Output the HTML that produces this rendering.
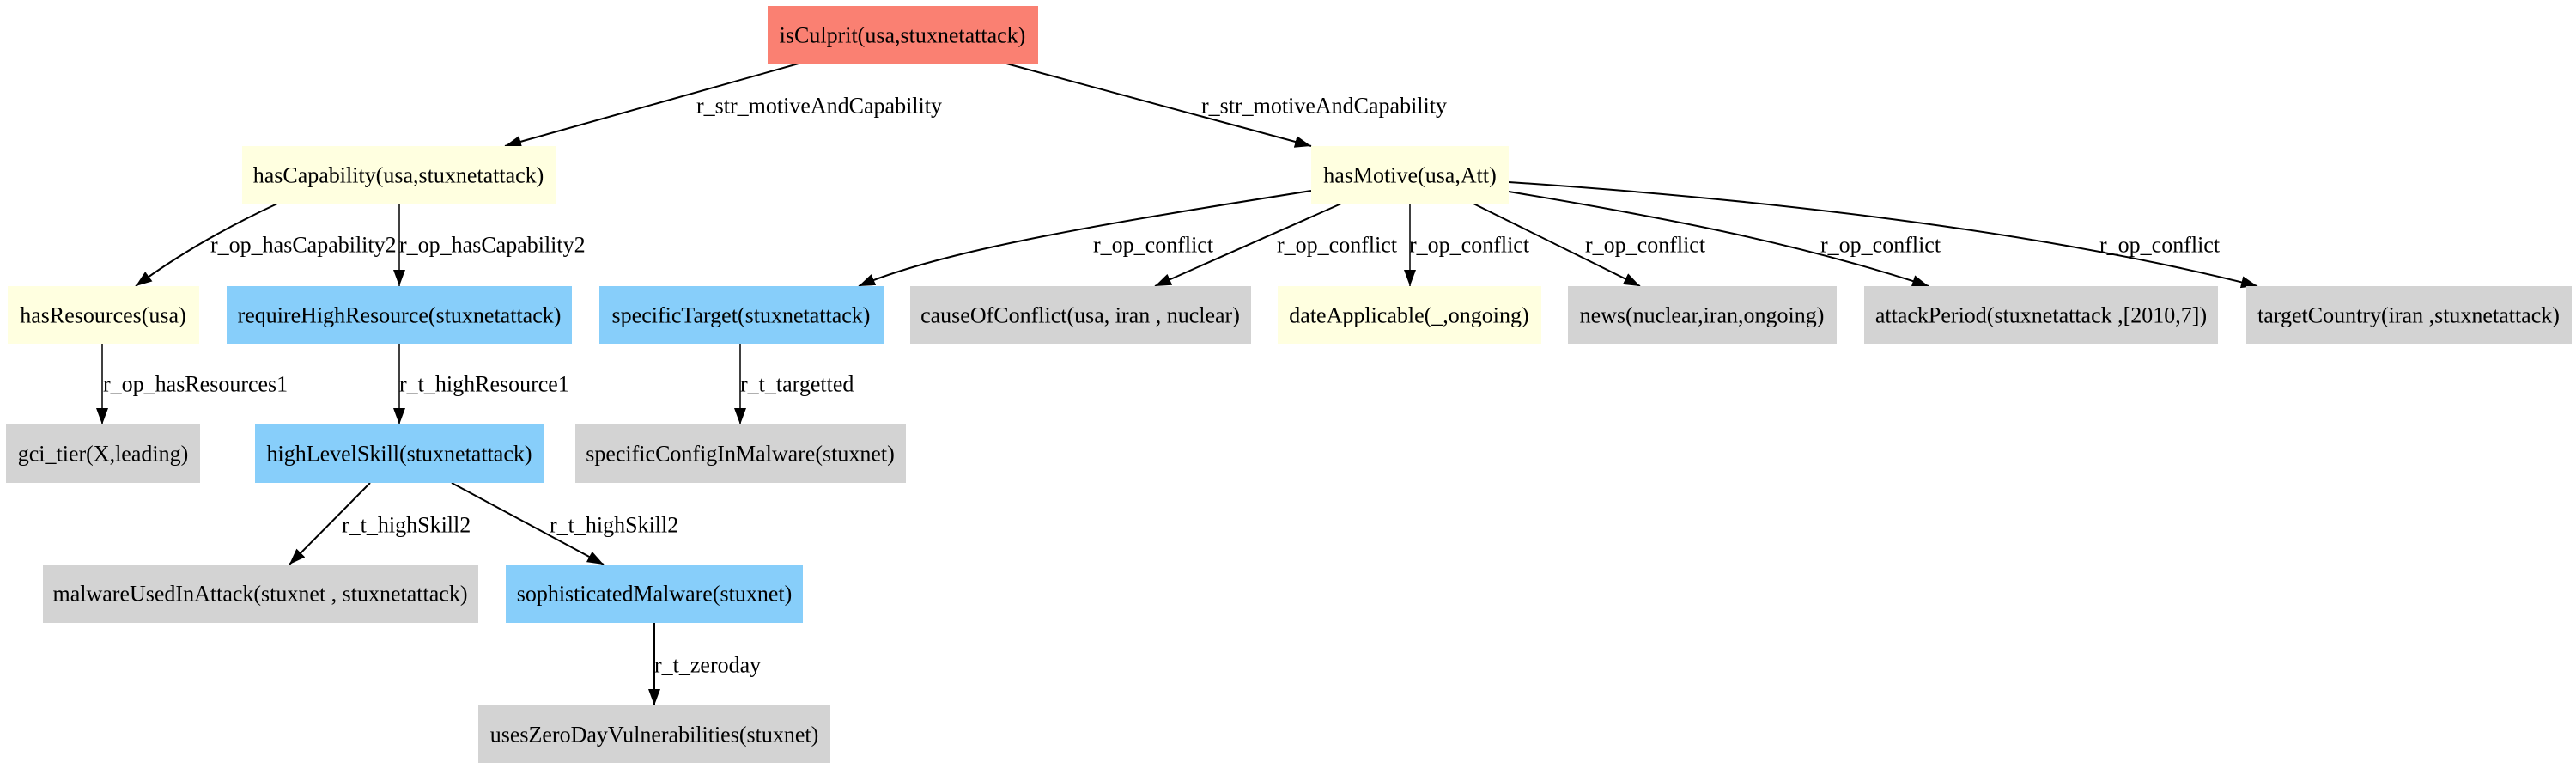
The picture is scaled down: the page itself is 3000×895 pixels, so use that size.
<!DOCTYPE html>
<html><head><meta charset="utf-8"><style>
html,body{margin:0;padding:0;background:#fff;}
svg{display:block;}
text{font-family:"Liberation Serif","Times New Roman",serif;font-size:26px;fill:#000;}
</style></head><body>
<svg width="3000" height="895" viewBox="0 0 3000 895" xmlns="http://www.w3.org/2000/svg">
<defs>
<marker id="a" markerUnits="userSpaceOnUse" markerWidth="20" markerHeight="16" refX="19" refY="7" orient="auto">
<path d="M0,0 L19,7 L0,14 Z" fill="#000"/>
</marker>
</defs>
<g fill="none" stroke="#000" stroke-width="2" marker-end="url(#a)">
<path d="M930,74 L588,170"/>
<path d="M1172,74 L1527,170"/>
<path d="M323,237 Q230,280 158,333"/>
<path d="M465,237 L465,333" stroke-width="1.5"/>
<path d="M1527,222 C1300,258 1100,290 1000,333"/>
<path d="M1562,237 L1345,333"/>
<path d="M1642,237 L1642,333" stroke-width="1.5"/>
<path d="M1716,237 L1910,333"/>
<path d="M1757,223 C1950,255 2100,285 2246,333"/>
<path d="M1757,212 C2100,235 2400,275 2629,333"/>
<path d="M119,400 L119,494" stroke-width="1.5"/>
<path d="M465,400 L465,494" stroke-width="1.5"/>
<path d="M862,400 L862,494" stroke-width="1.5"/>
<path d="M431,562 L337,657"/>
<path d="M526,562 L703,657"/>
<path d="M762,725 L762,821"/>
</g>
<g>
<rect x="894" y="7" width="315" height="67" fill="#fa8072"/>
<rect x="282" y="170" width="365" height="67" fill="#ffffe0"/>
<rect x="1527" y="170" width="230" height="67" fill="#ffffe0"/>
<rect x="9" y="333" width="223" height="67" fill="#ffffe0"/>
<rect x="264" y="333" width="402" height="67" fill="#87cefa"/>
<rect x="698" y="333" width="331" height="67" fill="#87cefa"/>
<rect x="1060" y="333" width="397" height="67" fill="#d3d3d3"/>
<rect x="1488" y="333" width="307" height="67" fill="#ffffe0"/>
<rect x="1826" y="333" width="313" height="67" fill="#d3d3d3"/>
<rect x="2171" y="333" width="412" height="67" fill="#d3d3d3"/>
<rect x="2616" y="333" width="379" height="67" fill="#d3d3d3"/>
<rect x="7" y="494" width="226" height="68" fill="#d3d3d3"/>
<rect x="297" y="494" width="336" height="68" fill="#87cefa"/>
<rect x="670" y="494" width="385" height="68" fill="#d3d3d3"/>
<rect x="50" y="657" width="507" height="68" fill="#d3d3d3"/>
<rect x="589" y="657" width="346" height="68" fill="#87cefa"/>
<rect x="557" y="821" width="410" height="67" fill="#d3d3d3"/>
</g>
<g text-anchor="middle" dominant-baseline="central">
<text x="1051" y="41">isCulprit(usa,stuxnetattack)</text>
<text x="464" y="204">hasCapability(usa,stuxnetattack)</text>
<text x="1642" y="204">hasMotive(usa,Att)</text>
<text x="120" y="367">hasResources(usa)</text>
<text x="465" y="367">requireHighResource(stuxnetattack)</text>
<text x="863" y="367">specificTarget(stuxnetattack)</text>
<text x="1258" y="367">causeOfConflict(usa, iran , nuclear)</text>
<text x="1641" y="367">dateApplicable(_,ongoing)</text>
<text x="1982" y="367">news(nuclear,iran,ongoing)</text>
<text x="2377" y="367">attackPeriod(stuxnetattack ,[2010,7])</text>
<text x="2805" y="367">targetCountry(iran ,stuxnetattack)</text>
<text x="120" y="528">gci_tier(X,leading)</text>
<text x="465" y="528">highLevelSkill(stuxnetattack)</text>
<text x="862" y="528">specificConfigInMalware(stuxnet)</text>
<text x="303" y="691">malwareUsedInAttack(stuxnet , stuxnetattack)</text>
<text x="762" y="691">sophisticatedMalware(stuxnet)</text>
<text x="762" y="855">usesZeroDayVulnerabilities(stuxnet)</text>
</g>
<g dominant-baseline="central">
<text x="811" y="123">r_str_motiveAndCapability</text>
<text x="1399" y="123">r_str_motiveAndCapability</text>
<text x="245" y="285">r_op_hasCapability2</text>
<text x="465" y="285">r_op_hasCapability2</text>
<text x="1273" y="285">r_op_conflict</text>
<text x="1487" y="285">r_op_conflict</text>
<text x="1641" y="285">r_op_conflict</text>
<text x="1846" y="285">r_op_conflict</text>
<text x="2120" y="285">r_op_conflict</text>
<text x="2445" y="285">r_op_conflict</text>
<text x="120" y="447">r_op_hasResources1</text>
<text x="465" y="447">r_t_highResource1</text>
<text x="862" y="447">r_t_targetted</text>
<text x="398" y="611">r_t_highSkill2</text>
<text x="640" y="611">r_t_highSkill2</text>
<text x="762" y="774">r_t_zeroday</text>
</g>
</svg>
</body></html>
